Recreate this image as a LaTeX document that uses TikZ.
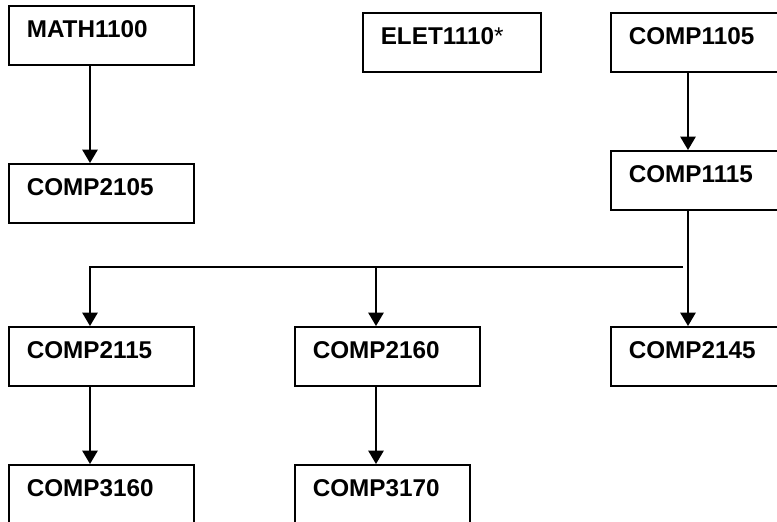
\documentclass[tikz,border=0pt]{standalone}
\usepackage{fontspec}
\setmainfont{Liberation Sans}
\usetikzlibrary{arrows.meta}
\begin{document}
\begin{tikzpicture}[x=0.75pt,y=-0.75pt]
		% Styles
		\tikzstyle{fleche}=[->,>={Triangle[length=10pt,width=11.5pt]},line width=1.1pt]
		\tikzstyle{cours}=[draw,line width=1.2pt,anchor=north west,align=left,inner xsep=13.5pt,inner ysep=11pt,text height=13pt,text depth=9.25pt,text width=111.75pt,font=\fontsize{18.2}{20}\selectfont\bfseries]
		\tikzstyle{etroit}=[text width=104.25pt]
		% Cadre
		\useasboundingbox (0,0) rectangle (777,521);
		\clip (0,0) rectangle (777,521);
		% Colonnes des fleches
		\coordinate (colA) at (90,0);
		\coordinate (colB) at (376,0);
		\coordinate (colD) at (688,0);
		\coordinate (bus) at (683,267);
		% Noeuds
		\node[cours] (MATH1100) at (8,5) {MATH1100};
		\node[cours] (COMP2105) at (8,163) {COMP2105};
		\node[cours,text width=106.5pt] (ELET1110) at (362,12) {ELET1110{\mdseries *}};
		\node[cours] (COMP1105) at (610,12) {COMP1105};
		\node[cours] (COMP1115) at (610,150) {COMP1115};
		\node[cours] (COMP2115) at (8,326) {COMP2115};
		\node[cours] (COMP2160) at (294,326) {COMP2160};
		\node[cours] (COMP2145) at (610,326) {COMP2145};
		\node[cours] (COMP3160) at (8,464) {COMP3160};
		\node[cours,etroit] (COMP3170) at (294,464) {COMP3170};
		% Arcs
		\draw[fleche] (MATH1100.south -| colA)--(COMP2105.north -| colA);
		\draw[fleche] (COMP1105.south -| colD)--(COMP1115.north -| colD);
		\draw[fleche] (COMP1115.south -| colD)--(COMP2145.north -| colD);
		\draw[fleche] (bus) -| (COMP2115.north -| colA);
		\draw[fleche] (bus -| colB)--(COMP2160.north -| colB);
		\draw[fleche] (COMP2115.south -| colA)--(COMP3160.north -| colA);
		\draw[fleche] (COMP2160.south -| colB)--(COMP3170.north -| colB);
	\end{tikzpicture}
\end{document}
